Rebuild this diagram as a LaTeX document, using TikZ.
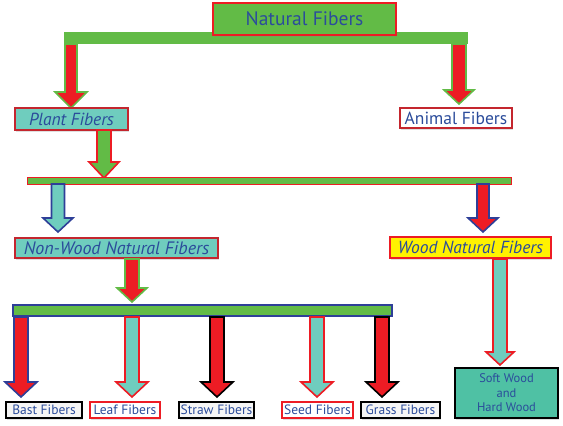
\documentclass[tikz,border=0pt]{standalone}
\usepackage{fontspec}
\setmainfont{PT Sans}
\usetikzlibrary{shadows}
\definecolor{lgreen}{HTML}{62BB46}
\definecolor{fred}{HTML}{ED1C24}
\definecolor{dred}{HTML}{C4262E}
\definecolor{teal1}{HTML}{6FCDBE}
\definecolor{teal2}{HTML}{4FC1A4}
\definecolor{dblue}{HTML}{2E3F98}
\definecolor{tblue}{HTML}{2B4C9B}
\definecolor{yel}{HTML}{FFF200}
\newcommand{\barrow}[9]{%
  \filldraw[fill=#8,draw=#9,line width=1.6pt,line join=miter]
    ({#1-#5},#2) -- ({#1+#5},#2) -- ({#1+#5},#3) -- ({#1+#6},#3) -- (#1,#4)
    -- ({#1-#6},#3) -- ({#1-#5},#3) -- cycle;}
\tikzset{
  box/.style={draw, line width=1.4pt, text=tblue, inner sep=0pt, align=center,
    drop shadow={shadow xshift=1pt, shadow yshift=-1.5pt, opacity=0.25}},
  smallbox/.style={box, font=\fontsize{13.5}{15}\selectfont, minimum height=16pt},
}
\begin{document}
\begin{tikzpicture}[x=1pt,y=-1pt]
\useasboundingbox (0,0) rectangle (563,426);
% top bar
\fill[lgreen] (64,32) rectangle (468,44);
\node[box, fill=lgreen, draw=fred, line width=2pt, minimum width=183pt, minimum height=32pt,
  font=\fontsize{19.5}{22}\selectfont] (nat) at (304.5,19) {Natural Fibers};
% arrows level 1
\barrow{71}{44}{92}{108}{6}{16}{}{fred}{lgreen}
\barrow{459}{44}{90}{104}{7}{15}{}{fred}{lgreen}
\node[box, fill=teal1, draw=dred, minimum width=113pt, minimum height=22pt,
  font=\fontsize{17.5}{19}\selectfont\itshape] (plant) at (71.5,119) {Plant Fibers};
\node[box, fill=white, draw=dred, minimum width=112pt, minimum height=20pt,
  font=\fontsize{17.5}{19}\selectfont] (animal) at (456,118) {Animal Fibers};
% plant to bar2
\barrow{104}{130}{162}{178}{7}{15}{}{lgreen}{fred}
\filldraw[fill=lgreen, draw=fred, line width=1pt] (27,177) rectangle (511,184);
\barrow{58}{184}{218}{232}{6.5}{15}{}{teal1}{dblue}
\barrow{483}{184}{218}{232}{6}{15}{}{fred}{dblue}
\node[box, fill=teal1, draw=dred, minimum width=203pt, minimum height=20pt,
  font=\fontsize{18}{19}\selectfont\itshape] (nonwood) at (116.5,248) {Non-Wood Natural Fibers};
\node[box, fill=yel, draw=fred, minimum width=161pt, minimum height=21pt,
  font=\fontsize{17.5}{19}\selectfont\itshape] (wood) at (470.5,247.5) {Wood Natural Fibers};
% nonwood to bar3
\barrow{132}{259}{288}{302}{7}{15}{}{fred}{lgreen}
\filldraw[fill=lgreen, draw=dblue, line width=1.4pt] (13,305) rectangle (392,316);
% wood to softwood
\barrow{500}{259}{352}{365}{7}{14}{}{teal1}{fred}
\node[box, fill=teal2, draw=black, minimum width=103pt, minimum height=50pt,
  font=\fontsize{12.5}{14.5}\selectfont] (soft) at (506.5,393) {Soft Wood\\and\\Hard Wood};
% bottom arrows
\barrow{21}{317}{382}{397}{7}{16}{}{fred}{dblue}
\barrow{132}{317}{382}{397}{7}{16}{}{teal1}{fred}
\barrow{217}{317}{382}{397}{7}{16}{}{fred}{black}
\barrow{317}{317}{382}{397}{7}{16}{}{teal1}{fred}
\barrow{382}{317}{382}{397}{7}{16}{}{fred}{black}
% bottom boxes
\node[smallbox, fill=gray!8, draw=black, minimum width=76pt] (bast) at (44,410) {Bast Fibers};
\node[smallbox, fill=white, draw=fred, minimum width=70pt] (leaf) at (125,410) {Leaf Fibers};
\node[smallbox, fill=gray!8, draw=black, minimum width=75pt] (straw) at (216.5,410) {Straw Fibers};
\node[smallbox, fill=white, draw=fred, minimum width=71pt] (seed) at (317.5,410) {Seed Fibers};
\node[smallbox, fill=gray!8, draw=black, minimum width=79pt] (grass) at (400.5,410) {Grass Fibers};
\end{tikzpicture}
\end{document}
